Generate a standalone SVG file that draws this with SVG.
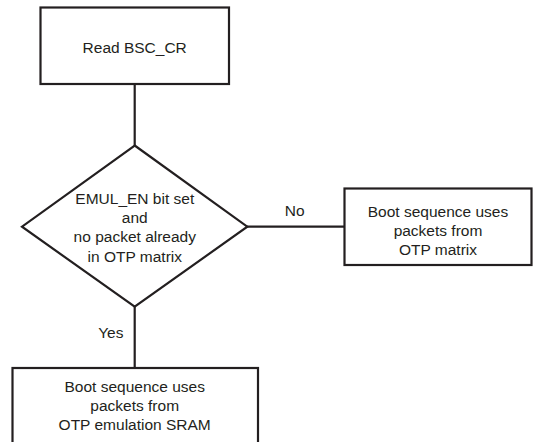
<svg xmlns="http://www.w3.org/2000/svg" width="533" height="442" viewBox="0 0 533 442">
  <style>
    .box { fill: #ffffff; stroke: #231f20; stroke-width: 2.2; }
    .wire { fill: none; stroke: #231f20; stroke-width: 2.2; }
    .lbl { font-family: "Liberation Sans", Arial, sans-serif; font-size: 15.5px; fill: #231f20; text-anchor: middle; }
  </style>
  <rect width="533" height="442" fill="#ffffff"/>

  <g id="connectors">
    <line class="wire" x1="134.7" y1="84" x2="134.7" y2="146"/>
    <line class="wire" x1="247" y1="226.7" x2="344.5" y2="226.7"/>
    <line class="wire" x1="134.7" y1="306" x2="134.7" y2="368"/>
    <text class="lbl" x="294.7" y="215.5">No</text>
    <text class="lbl" x="110.8" y="338">Yes</text>
  </g>

  <g id="read-bsc-cr">
    <rect class="box" x="40.5" y="7.5" width="188.5" height="76.5"/>
    <text class="lbl" x="134.7" y="52.5">Read BSC_CR</text>
  </g>

  <g id="emul-check">
    <polygon class="box" points="134.7,145.5 247.3,226.7 134.7,306.7 22,226.7"/>
    <text class="lbl" x="134.8" y="204">EMUL_EN bit set</text>
    <text class="lbl" x="134.8" y="223.2">and</text>
    <text class="lbl" x="134.8" y="242.4">no packet already</text>
    <text class="lbl" x="134.8" y="261.6">in OTP matrix</text>
  </g>

  <g id="otp-matrix">
    <rect class="box" x="344.5" y="188.5" width="187" height="76.5"/>
    <text class="lbl" x="438" y="216.5">Boot sequence uses</text>
    <text class="lbl" x="438" y="235.5">packets from</text>
    <text class="lbl" x="438" y="254.5">OTP matrix</text>
  </g>

  <g id="otp-emulation-sram">
    <rect class="box" x="12.5" y="368" width="245.5" height="90"/>
    <text class="lbl" x="134.7" y="392">Boot sequence uses</text>
    <text class="lbl" x="134.7" y="411">packets from</text>
    <text class="lbl" x="134.7" y="430">OTP emulation SRAM</text>
  </g>
</svg>
